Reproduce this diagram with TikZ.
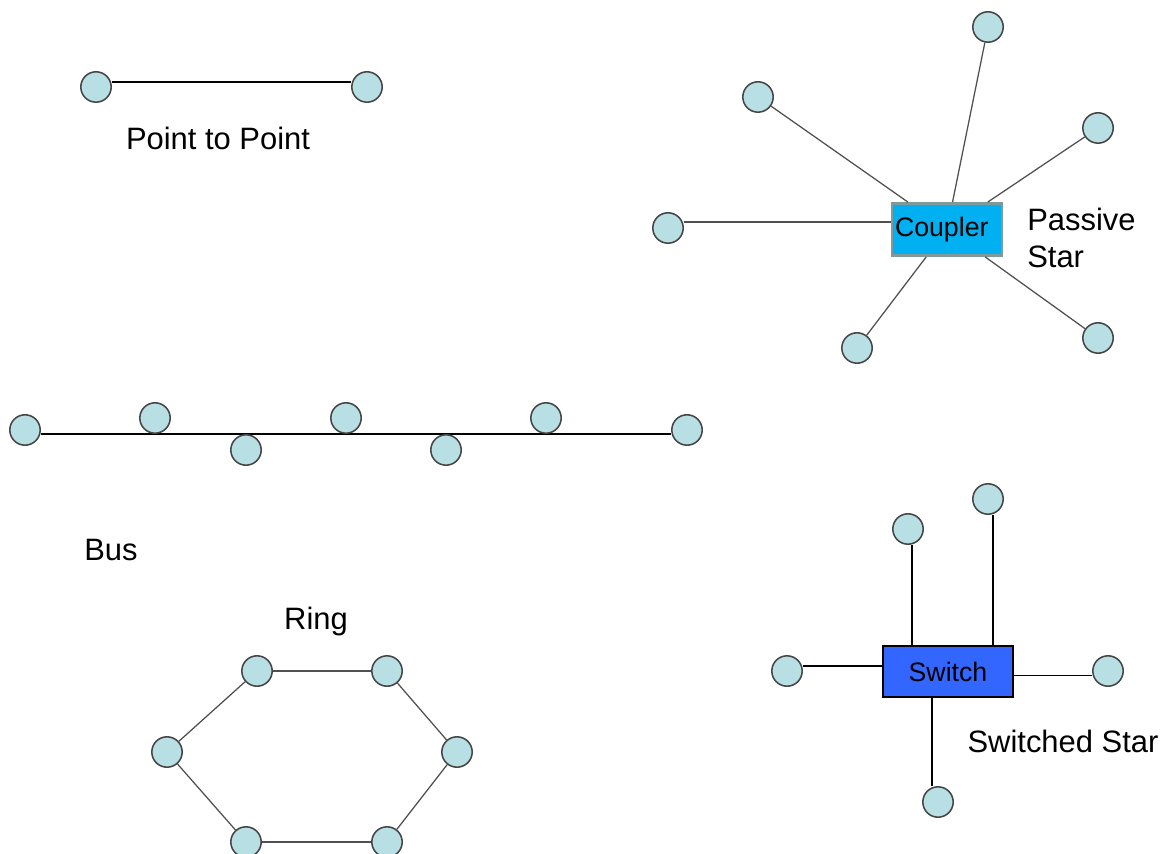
\documentclass[tikz,border=0pt]{standalone}
\usepackage{fontspec}
\setmainfont{Liberation Sans}
\definecolor{nodefill}{RGB}{184,223,227}
\definecolor{nodeline}{RGB}{70,70,70}
\definecolor{linkgray}{RGB}{80,80,80}
\definecolor{couplerblue}{RGB}{0,176,240}
\definecolor{couplerline}{RGB}{128,153,153}
\definecolor{switchblue}{RGB}{51,102,255}
\usetikzlibrary{positioning}

\begin{document}
\begin{tikzpicture}[x=0.25mm, y=-0.25mm,
        stn/.style={circle, draw=nodeline, fill=nodefill, line width=1.1pt,
                    minimum size=7.6mm, inner sep=0pt},
        link/.style={draw=linkgray, line width=0.9pt},
        lbl/.style={inner sep=0pt, font=\fontsize{22}{26.5}\selectfont},
        couplerbox/.style={rectangle, draw=couplerline, line width=2.1pt, fill=couplerblue,
                           text width=26mm, inner xsep=0.75mm, minimum height=13mm,
                           align=left, font=\fontsize{19}{22}\selectfont},
        switchbox/.style={rectangle, draw=black, line width=0.8pt, fill=switchblue,
                          minimum width=32.5mm, minimum height=12.75mm,
                          font=\fontsize{19}{22}\selectfont}
      ]
        \clip (0,0) rectangle (1168,854);

        % Point to point
        \node[stn] (pa) at (96,87) {};
        \node[stn] (pb) at (367,87) {};
        \draw[link, black] ([yshift=1.25mm]pa.east) -- ([yshift=1.25mm]pb.west);
        \node[lbl] (ptptxt) at (218,138) {Point to Point};

        % Passive star
        \node[couplerbox] (cpl) at (947,229.5) {Coupler};
        \node[stn] (pn1) at (988,27) {};
        \node[stn] (pn2) at (758,97) {};
        \node[stn] (pn3) at (1098,128) {};
        \node[stn] (pn4) at (668,228) {};
        \node[stn] (pn5) at (857,348) {};
        \node[stn] (pn6) at (1098,338) {};
        \draw[link] (pn1) -- (cpl);
        \draw[link] (pn2) -- (cpl);
        \draw[link] (pn3) -- (cpl);
        \draw[link] ([yshift=1.5mm]pn4.east) -- ([yshift=1.5mm]pn4.east -| cpl.west);
        \draw[link] (pn5) -- (cpl);
        \draw[link] (pn6) -- (cpl);
        \node[lbl, anchor=west, align=left] (pstxt) at (1027,238) {Passive\\Star};

        % Bus
        \node[stn] (b1) at (25,430) {};
        \node[stn] (b7) at (687,430) {};
        \draw[black, line width=0.8pt] ([yshift=-1mm]b1.east) -- ([yshift=-1mm]b7.west);
        \node[stn] (b2) at (155,418) {};
        \node[stn] (b3) at (246,450) {};
        \node[stn] (b4) at (346,418) {};
        \node[stn] (b5) at (446,450) {};
        \node[stn] (b6) at (546,418) {};
        \node[lbl] (bustxt) at (111,550) {Bus};

        % Ring
        \node[lbl] (ringtxt) at (316,622) {Ring};
        \node[stn] (r1) at (257,671) {};
        \node[stn] (r2) at (387,671) {};
        \node[stn] (r3) at (457,752) {};
        \node[stn] (r4) at (387,842) {};
        \node[stn] (r5) at (246,842) {};
        \node[stn] (r6) at (167,752) {};
        \draw[link] (r1) -- (r2);
        \draw[link] (r2) -- (r3);
        \draw[link] (r3) -- (r4);
        \draw[link] (r4) -- (r5);
        \draw[link] (r5) -- (r6);
        \draw[link] (r6) -- (r1);

        % Switched star
        \node[switchbox] (sw) at (948,671.5) {Switch};
        \node[stn] (sn1) at (908,529) {};
        \node[stn] (sn2) at (988,499) {};
        \node[stn] (sn3) at (787,671) {};
        \node[stn] (sn4) at (1108,671) {};
        \node[stn] (sn5) at (938,802) {};
        \draw[black, line width=0.8pt] ([xshift=1mm]sn1.south) -- ([xshift=1mm]sn1.south |- sw.north);
        \draw[black, line width=0.8pt] ([xshift=1.25mm]sn2.south) -- ([xshift=1.25mm]sn2.south |- sw.north);
        \draw[black, line width=0.8pt] ([yshift=1.25mm]sn3.east) -- ([yshift=1.25mm]sn3.east -| sw.west);
        \draw[black, line width=0.8pt] ([yshift=-1mm]sw.east) -- ([yshift=-1mm]sw.east -| sn4.west);
        \draw[black, line width=0.8pt] ([xshift=-4mm]sw.south) -- ([xshift=-4mm]sw.south |- sn5.north);
        \node[lbl] (sstxt) at (1063,741) {Switched Star};
      \end{tikzpicture}
\end{document}
